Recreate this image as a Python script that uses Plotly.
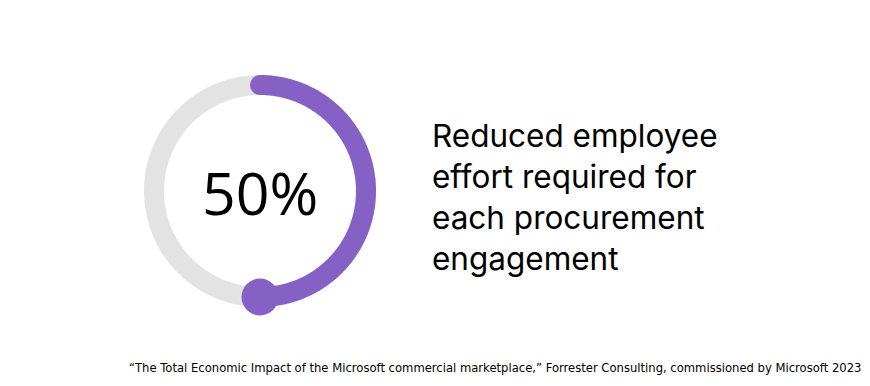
import numpy as np
import plotly.graph_objects as go

# ---- data ----
value_pct = 50
value_label = "50%"
description_lines = ["Reduced employee", "effort required for", "each procurement", "engagement"]
source_note = ("\u201cThe Total Economic Impact of the Microsoft commercial marketplace,\u201d "
               "Forrester Consulting, commissioned by Microsoft 2023")

PURPLE = "#8661c5"
GRAY = "#e3e3e3"

OFF = 8                    # page body margin
W, H = 870 - OFF, 386 - OFF
cx, cy = 260 - OFF, 191 - OFF   # ring centre, px from left/top of figure
R_PLOT = 122               # radius of the polar area in px
R_MID = 106                # ring centre-line radius in px
RING_W = 20                # ring thickness in px

fig = go.Figure()

# background full ring
theta_full = np.linspace(0, 360, 361)
fig.add_trace(go.Scatterpolar(
    r=[R_MID] * len(theta_full), theta=theta_full, mode="lines",
    line=dict(color=GRAY, width=RING_W), hoverinfo="skip", showlegend=False))

# value arc (clockwise from top)
end_angle = 90 - 360 * value_pct / 100
theta_val = np.linspace(90, end_angle, 200)
fig.add_trace(go.Scatterpolar(
    r=[R_MID] * len(theta_val), theta=theta_val, mode="lines",
    line=dict(color=PURPLE, width=RING_W), hoverinfo="skip", showlegend=False))

# rounded start cap
fig.add_trace(go.Scatterpolar(
    r=[R_MID], theta=[90], mode="markers",
    marker=dict(color=PURPLE, size=RING_W, line=dict(width=0)),
    hoverinfo="skip", showlegend=False))

# end knob
fig.add_trace(go.Scatterpolar(
    r=[R_MID], theta=[end_angle], mode="markers",
    marker=dict(color=PURPLE, size=37, line=dict(width=0)),
    hoverinfo="skip", showlegend=False))

fig.update_layout(
    width=W, height=H,
    margin=dict(l=0, r=0, t=0, b=0),
    paper_bgcolor="white",
    polar=dict(
        domain=dict(x=[(cx - R_PLOT) / W, (cx + R_PLOT) / W],
                    y=[(H - cy - R_PLOT) / H, (H - cy + R_PLOT) / H]),
        bgcolor="white",
        radialaxis=dict(range=[0, R_PLOT], visible=False),
        angularaxis=dict(visible=False, rotation=0, direction="counterclockwise"),
    ),
)

# centre value
fig.add_annotation(
    x=(260 - OFF) / W, y=1 - (192 - OFF) / H, xref="paper", yref="paper",
    text=value_label, showarrow=False, xanchor="center", yanchor="middle",
    font=dict(family="Open Sans, Noto Sans, sans-serif", size=59, color="#000000"))

# description
fig.add_annotation(
    x=(430 - OFF) / W, y=1 - (197 - OFF) / H, xref="paper", yref="paper",
    text="<br>".join(description_lines), showarrow=False,
    xanchor="left", yanchor="middle", align="left",
    font=dict(family="Inter, Noto Sans, sans-serif", size=31.5, color="#000000"))

# source
fig.add_annotation(
    x=(863 - OFF) / W, y=1 - (368 - OFF) / H, xref="paper", yref="paper",
    text=source_note, showarrow=False, xanchor="right", yanchor="middle",
    font=dict(family="DejaVu Sans, sans-serif", size=11.6, color="#000000"))

fig.write_html("out.html")
